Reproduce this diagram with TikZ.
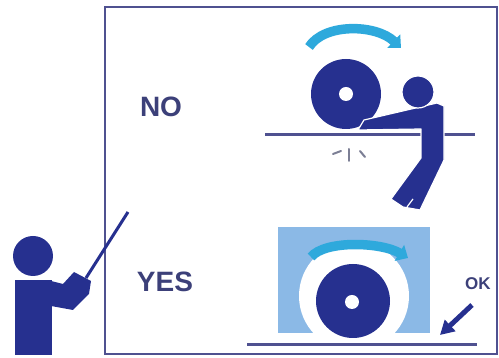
\documentclass[tikz,border=0pt]{standalone}
\usepackage{fontspec}
\setmainfont{Liberation Sans}
\usepackage{xcolor}
\definecolor{navy}{HTML}{26308F}
\definecolor{frameblue}{HTML}{4F5190}
\definecolor{cyanarc}{HTML}{2EA9DC}
\definecolor{guard}{HTML}{8BB9E6}
\definecolor{label}{HTML}{3C4079}
\definecolor{spark}{HTML}{7C7F95}
\usetikzlibrary{arrows.meta}
\tikzset{
  figure/.style={fill=navy,draw=white,line width=1.2pt,line join=round},
  bench/.style={draw=frameblue,line width=3pt},
  turn/.style={draw=cyanarc,line width=9.5pt,-{Triangle[length=10pt,width=18pt]}},
  pointer/.style={draw=navy,line width=5pt,-{Triangle[length=14pt,width=15pt]}},
  sparkline/.style={draw=spark,line width=2pt,line cap=round},
  word/.style={font=\bfseries\fontsize{28}{28}\selectfont,text=label,inner sep=0pt},
  okword/.style={word,font=\bfseries\fontsize{17}{17}\selectfont},
}

\begin{document}
\begin{tikzpicture}[x=1pt,y=1pt]
  \useasboundingbox (0,0) rectangle (499,358);
  % frame
  \draw[frameblue,line width=2pt] (105,4) rectangle (497,351);
  \node[word] (no) at (161,251) {NO};
  \node[word] (yes) at (165,76) {YES};
  % teacher with pointer
  \coordinate (stickend) at (86,80);
  \coordinate (sticktip) at (128,146);
  \draw[navy,line width=3pt] (stickend) -- (sticktip);
  \fill[navy] (33,102) circle[radius=20];
  \fill[navy] (15,3) rectangle (52,78);
  \fill[navy] (51,77) -- (63,74) -- (74,86) -- (91,77) -- (89,64) -- (73,48) -- (51,52) -- cycle;
  % wrong way: wheel pushed by hand
  \coordinate (nohub) at (346,264);
  \coordinate (noturnfrom) at (309,311);
  \coordinate (noturnto) at (401,310);
  \draw[turn] (noturnfrom) .. controls (324,335) and (376,334) .. (noturnto);
  \fill[navy] (nohub) circle[radius=35];
  \fill[white] (nohub) circle[radius=7];
  \draw[bench] (265,223) -- (475,223);
  \draw[figure] (358,228) -- (364,238) -- (437,255) -- (444,252) -- (444,198)
    -- (420,148) -- (403,151) -- (391,159) -- (421,200) -- (421,229) -- cycle;
  \draw[white,line width=1.2pt] (407,151) -- (413,159);
  \draw[figure] (418,266) circle[radius=16];
  \draw[sparkline] (333,204) -- (341,207);
  \draw[sparkline] (349,209) -- (349,197);
  \draw[sparkline] (360,207) -- (365,201);
  % right way: guarded wheel
  \coordinate (yeshub) at (353,57);
  \coordinate (yesturnfrom) at (311,101);
  \coordinate (yesturnto) at (408,100);
  \fill[guard] (278,25) rectangle (430,131);
  \fill[white] (354,62) circle[radius=55];
  \draw[turn] (yesturnfrom) .. controls (325,118) and (381,116) .. (yesturnto);
  \fill[navy] (yeshub) circle[radius=37];
  \fill[white] (352,56) circle[radius=7];
  \draw[bench] (247,13) -- (477,13);
  \node[okword,anchor=west] (ok) at (465,74) {OK};
  \coordinate (oktail) at (472,53);
  \coordinate (oktip) at (440,23);
  \draw[pointer] (oktail) -- (oktip);
\end{tikzpicture}
\end{document}
